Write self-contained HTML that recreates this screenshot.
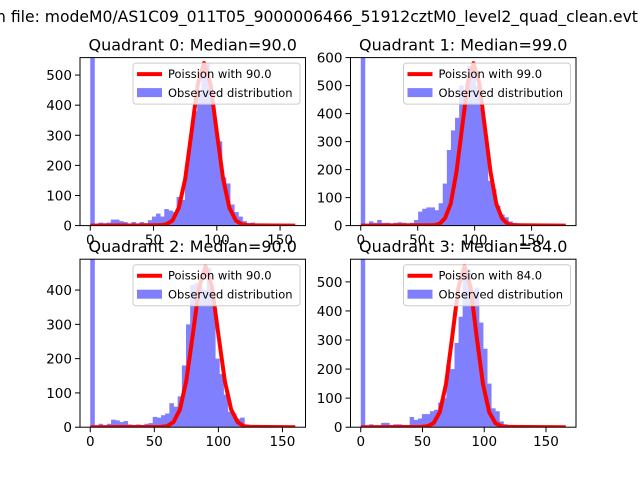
<!DOCTYPE html>
<html><head><meta charset="utf-8"><style>
html,body{margin:0;padding:0;background:#fff;width:640px;height:480px;overflow:hidden}
svg{display:block;font-family:"DejaVu Sans","Liberation Sans",sans-serif}
</style></head><body>
<svg id="fig" width="640" height="480" viewBox="0 0 640 480">
<rect width="640" height="480" fill="#fff"/>
<text x="-4" y="22" font-size="15.6" fill="#000">n file: modeM0/AS1C09_011T05_9000006466_51912cztM0_level2_quad_clean.evt</text>
</svg>
<script>
// ---- data ----
const titles = ["Quadrant 0: Median=90.0","Quadrant 1: Median=99.0","Quadrant 2: Median=90.0","Quadrant 3: Median=84.0"];
const legendLabels = ["Poission with 90.0","Poission with 99.0","Poission with 90.0","Poission with 84.0"];
const binWidths = [3.25, 3.6, 3.25, 3.3];
const hist0 = [1000,5,10,8,10,20,20,15,12,5,12,5,12,8,18,30,40,30,55,50,45,95,85,200,300,380,440,520,540,420,330,280,160,140,70,45,30,15,8,10,5,3,2,2,1,1,0,0,0,0];
const hist1 = [1000,5,15,10,20,10,10,8,10,12,10,8,10,20,50,60,65,65,55,80,150,270,340,385,500,470,570,550,500,420,320,160,130,70,40,30,15,10,8,5,5,3,2,1,1,0,0,0,0,0];
const hist2 = [1000,3,10,5,10,22,20,15,18,8,5,8,5,10,12,30,28,35,40,70,60,90,180,300,415,420,410,400,465,385,200,155,95,45,40,25,28,5,5,3,5,5,3,1,1,0,0,0,0];
const hist3 = [1000,5,10,3,2,15,15,5,10,10,5,5,35,25,30,45,45,55,60,85,100,215,200,290,380,550,545,470,480,360,270,150,65,55,20,10,5,3,2,1,1,0,0,0,0,0,0,0,0,0,0];
const curveX0 = [0,55,60,65,70,75,80,85,90,95,100,105,110,115,120,125,162];
const curveY0 = [0,1,4,17,59,155,310,470,540,470,310,155,59,17,4,1,0];
const curveX1 = [0,64,69,74,79,84,89,94,99,104,109,114,119,124,129,134,180];
const curveY1 = [0,1,6,26,78,190,350,510,580,510,350,190,78,26,6,1,0];
const curveX2 = [0,55,60,65,70,75,80,85,90,95,100,105,110,115,120,125,160];
const curveY2 = [0,1,3,15,51,135,270,409,470,409,270,135,51,15,3,1,0];
const curveX3 = [0,49,54,59,64,69,74,79,84,89,94,99,104,109,114,119,166];
const curveY3 = [0,1,3,14,52,148,308,479,555,479,308,148,52,14,3,1,0];
const xMax = [162,180,160,166];
const yMax = [558,600,490,578];
const yTicks0 = [0,100,200,300,400,500];
const yTicks1 = [0,100,200,300,400,500,600];
const yTicks2 = [0,100,200,300,400];
const yTicks3 = [0,100,200,300,400,500];
const xTicks = [0,50,100,150];

const hists=[hist0,hist1,hist2,hist3];
const cxs=[curveX0,curveX1,curveX2,curveX3];
const cys=[curveY0,curveY1,curveY2,curveY3];
const yts=[yTicks0,yTicks1,yTicks2,yTicks3];
const boxes=[[80,57.6],[350.5,57.6],[80,259.2],[350.5,259.2]];
const W=225.5,H=168;
const NS="http://www.w3.org/2000/svg";
const svg=document.getElementById('fig');
function mk(tag,attrs,parent){const e=document.createElementNS(NS,tag);for(const k in attrs)e.setAttribute(k,attrs[k]);(parent||svg).appendChild(e);return e;}

for(let p=0;p<4;p++){
  const [L,T]=boxes[p];
  const x0=-0.05*xMax[p], x1=1.05*xMax[p];
  const sx=v=>L+(v-x0)/(x1-x0)*W;
  const sy=v=>T+H-Math.min(v,yMax[p]*1.2)/yMax[p]*H;
  const g=mk('g',{});
  
  
  const cid='clip'+p;
  const cp=mk('clipPath',{id:cid},g);
  mk('rect',{x:L,y:T,width:W,height:H},cp);
  const bars=mk('g',{'clip-path':'url(#'+cid+')'},g);
  hists[p].forEach((v,i)=>{
    if(v<=0)return;
    const a=sx(i*binWidths[p]), b=sx((i+1)*binWidths[p]);
    const r=mk('rect',{x:a,y:sy(v),width:b-a+0.4,height:T+H-sy(v),fill:'#8080ff'},bars);
    
    
  });
  const pts=cxs[p].map((x,i)=>sx(x).toFixed(1)+','+sy(cys[p][i]).toFixed(1)).join(' ');
  const ln=mk('polyline',{points:pts,fill:'none',stroke:'#ff0000','stroke-width':4,'stroke-linejoin':'round'},bars);
  
  
  const fr=mk('rect',{x:L,y:T,width:W,height:H,fill:'none',stroke:'#000','stroke-width':1},g);
  
  
  xTicks.forEach(t=>{
    const x=sx(t);
    mk('line',{x1:x,x2:x,y1:T+H,y2:T+H+5,stroke:'#000'},g);
    const tx=mk('text',{x:x,y:T+H+19,'font-size':13.5,'text-anchor':'middle'},g);
    tx.textContent=t;
    
    
  });
  yts[p].forEach(t=>{
    const y=sy(t);
    mk('line',{x1:L-5,x2:L,y1:y,y2:y,stroke:'#000'},g);
    const tx=mk('text',{x:L-8,y:y+5,'font-size':13.5,'text-anchor':'end'},g);
    tx.textContent=t;
    
    
  });
  const tt=mk('text',{x:L+W/2,y:T-7,'font-size':16,'text-anchor':'middle'},g);
  tt.textContent=titles[p];
  
  
  const lg=mk('g',{},g);
  
  
  const lx=L+W-172.5, ly=T+5.5;
  mk('rect',{x:lx,y:ly,width:167,height:41,rx:3,fill:'#fff','fill-opacity':0.8,stroke:'#ccc'},lg);
  mk('line',{x1:lx+4,x2:lx+29,y1:ly+11,y2:ly+11,stroke:'#ff0000','stroke-width':4},lg);
  const t1=mk('text',{x:lx+35,y:ly+15,'font-size':11.5},lg);
  t1.textContent=legendLabels[p];
  
  
  mk('rect',{x:lx+4,y:ly+25,width:25,height:9,fill:'#8080ff'},lg);
  const t2=mk('text',{x:lx+35,y:ly+34,'font-size':11.5},lg);
  t2.textContent='Observed distribution';
  
  
}
</script>
</body></html>
